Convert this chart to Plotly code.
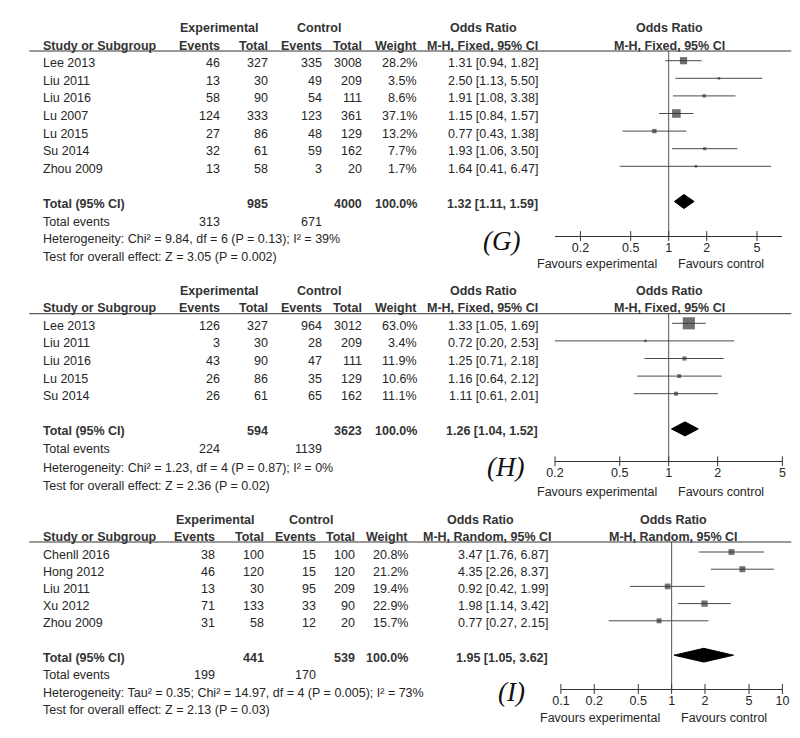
import math
import plotly.graph_objects as go

W, H = 800, 738
FONT = "Liberation Sans, Arial, sans-serif"
TXT = "#262626"
HDR = "#333333"

# ---------------- data ----------------
# Panel G (M-H, Fixed)
g_study = ["Lee 2013", "Liu 2011", "Liu 2016", "Lu 2007", "Lu 2015", "Su 2014", "Zhou 2009"]
g_exp_events = [46, 13, 58, 124, 27, 32, 13]
g_exp_total = [327, 30, 90, 333, 86, 61, 58]
g_ctl_events = [335, 49, 54, 123, 48, 59, 3]
g_ctl_total = [3008, 209, 111, 361, 129, 162, 20]
g_weight = [28.2, 3.5, 8.6, 37.1, 13.2, 7.7, 1.7]
g_or = [1.31, 2.50, 1.91, 1.15, 0.77, 1.93, 1.64]
g_lo = [0.94, 1.13, 1.08, 0.84, 0.43, 1.06, 0.41]
g_hi = [1.82, 5.50, 3.38, 1.57, 1.38, 3.50, 6.47]
g_tot = dict(exp_total=985, ctl_total=4000, weight="100.0%", est=1.32, lo=1.11, hi=1.59,
             exp_events=313, ctl_events=671)
g_het = "Heterogeneity: Chi² = 9.84, df = 6 (P = 0.13); I² = 39%"
g_test = "Test for overall effect: Z = 3.05 (P = 0.002)"
g_ticks = [0.2, 0.5, 1, 2, 5]

# Panel H (M-H, Fixed)
h_study = ["Lee 2013", "Liu 2011", "Liu 2016", "Lu 2015", "Su 2014"]
h_exp_events = [126, 3, 43, 26, 26]
h_exp_total = [327, 30, 90, 86, 61]
h_ctl_events = [964, 28, 47, 35, 65]
h_ctl_total = [3012, 209, 111, 129, 162]
h_weight = [63.0, 3.4, 11.9, 10.6, 11.1]
h_or = [1.33, 0.72, 1.25, 1.16, 1.11]
h_lo = [1.05, 0.20, 0.71, 0.64, 0.61]
h_hi = [1.69, 2.53, 2.18, 2.12, 2.01]
h_tot = dict(exp_total=594, ctl_total=3623, weight="100.0%", est=1.26, lo=1.04, hi=1.52,
             exp_events=224, ctl_events=1139)
h_het = "Heterogeneity: Chi² = 1.23, df = 4 (P = 0.87); I² = 0%"
h_test = "Test for overall effect: Z = 2.36 (P = 0.02)"
h_ticks = [0.2, 0.5, 1, 2, 5]

# Panel I (M-H, Random)
i_study = ["Chenll 2016", "Hong 2012", "Liu 2011", "Xu 2012", "Zhou 2009"]
i_exp_events = [38, 46, 13, 71, 31]
i_exp_total = [100, 120, 30, 133, 58]
i_ctl_events = [15, 15, 95, 33, 12]
i_ctl_total = [100, 120, 209, 90, 20]
i_weight = [20.8, 21.2, 19.4, 22.9, 15.7]
i_or = [3.47, 4.35, 0.92, 1.98, 0.77]
i_lo = [1.76, 2.26, 0.42, 1.14, 0.27]
i_hi = [6.87, 8.37, 1.99, 3.42, 2.15]
i_tot = dict(exp_total=441, ctl_total=539, weight="100.0%", est=1.95, lo=1.05, hi=3.62,
             exp_events=199, ctl_events=170)
i_het = "Heterogeneity: Tau² = 0.35; Chi² = 14.97, df = 4 (P = 0.005); I² = 73%"
i_test = "Test for overall effect: Z = 2.13 (P = 0.03)"
i_ticks = [0.1, 0.2, 0.5, 1, 2, 5, 10]

# ---------------- layout (pixel geometry) ----------------
panels = [
    dict(name="G", method="M-H, Fixed, 95% CI",
         study=g_study, ee=g_exp_events, et=g_exp_total, ce=g_ctl_events, ct=g_ctl_total,
         w=g_weight, est=g_or, lo=g_lo, hi=g_hi, tot=g_tot, het=g_het, test=g_test, ticks=g_ticks,
         xr=(10 ** -0.9, 10 ** 0.9), xd=(549, 781),
         top=43, r0=52.7, step=17.6, axis=228, head1=20, head2=37.7, tot_idx=8,
         extra=(214, 231, 249), fav=256, label=(494, 233),
         cols=(209, 258, 313.6, 354, 410, 534), orhead=534, h1=(207, 308, 476), fshift=1),
    dict(name="H", method="M-H, Fixed, 95% CI",
         study=h_study, ee=h_exp_events, et=h_exp_total, ce=h_ctl_events, ct=h_ctl_total,
         w=h_weight, est=h_or, lo=h_lo, hi=h_hi, tot=h_tot, het=h_het, test=h_test, ticks=h_ticks,
         xr=(0.2, 5), xd=(549, 781),
         top=305.7, r0=315.3, step=17.6, axis=453.3, head1=282.7, head2=300, tot_idx=6,
         extra=(441, 460, 478), fav=484, label=(498, 459),
         cols=(209, 258, 313.6, 354, 410, 534), orhead=534, h1=(207, 308, 476), fshift=1),
    dict(name="I", method="M-H, Random, 95% CI",
         study=i_study, ee=i_exp_events, et=i_exp_total, ce=i_ctl_events, ct=i_ctl_total,
         w=i_weight, est=i_or, lo=i_lo, hi=i_hi, tot=i_tot, het=i_het, test=i_test, ticks=i_ticks,
         xr=(0.1, 10), xd=(555, 781),
         top=534, r0=544, step=17.2, axis=681, head1=511.7, head2=529, tot_idx=6,
         extra=(667, 685, 702), fav=710, label=(505, 684),
         cols=(203.6, 253.6, 307, 347, 400.7, 543.6), orhead=548, h1=(202.7, 300.5, 473), fshift=2),
]

TOFF = 2.5  # text offset relative to mark centre

fig = go.Figure()
annotations = []
shapes = []
layout_axes = {}


def ann(xp, yp, text, anchor="left", bold=False, size=12.5, color=TXT, family=FONT):
    return dict(x=xp / W, y=1 - yp / H, xref="paper", yref="paper",
                text=f"<b>{text}</b>" if bold else text, showarrow=False,
                xanchor=anchor, yanchor="middle",
                font=dict(size=size, color=color, family=family))


for k, p in enumerate(panels):
    sfx = "" if k == 0 else str(k + 1)
    xa, ya = "x" + sfx, "y" + sfx
    n = len(p["study"])
    rows = list(range(n))
    ymin = (p["axis"] - p["r0"]) / p["step"]
    ymax = (p["top"] - p["r0"]) / p["step"]

    def rpx(i, p=p):
        return p["r0"] + p["step"] * i

    layout_axes["xaxis" + sfx] = dict(
        type="log", range=[math.log10(p["xr"][0]), math.log10(p["xr"][1])],
        domain=[p["xd"][0] / W, p["xd"][1] / W], anchor=ya,
        showline=True, linecolor="#333333", linewidth=1, showgrid=False, zeroline=False,
        ticks="", tickvals=p["ticks"], ticktext=[f"{t:g}" for t in p["ticks"]],
        tickfont=dict(size=12.5, color=TXT, family=FONT), fixedrange=True)
    layout_axes["yaxis" + sfx] = dict(
        domain=[1 - p["axis"] / H, 1 - p["top"] / H], range=[ymin, ymax],
        visible=False, fixedrange=True)

    fig.add_trace(go.Scatter(x=[1, 1], y=[ymax, ymin], mode="lines", xaxis=xa, yaxis=ya,
                             line=dict(color="#555555", width=1), hoverinfo="skip"))
    fig.add_trace(go.Scatter(x=p["ticks"], y=[ymin] * len(p["ticks"]), mode="markers",
                             xaxis=xa, yaxis=ya, cliponaxis=False,
                             marker=dict(symbol="line-ns", size=7,
                                         line=dict(color="#333333", width=1)),
                             hoverinfo="skip"))
    cx, cy = [], []
    for i in rows:
        cx += [p["lo"][i], p["hi"][i], None]
        cy += [i, i, None]
    fig.add_trace(go.Scatter(x=cx, y=cy, mode="lines", xaxis=xa, yaxis=ya,
                             line=dict(color="#4a4a4a", width=1), hoverinfo="skip"))
    sizes = [max(2.5, 0.82 * w ** 0.65) for w in p["w"]]
    fig.add_trace(go.Scatter(x=p["est"], y=rows, mode="markers", xaxis=xa, yaxis=ya,
                             cliponaxis=False,
                             marker=dict(symbol="square", size=sizes, color="#333333",
                                         line=dict(width=0)), hoverinfo="skip"))
    t = p["tot"]
    ti = p["tot_idx"]
    hh = 0.4
    fig.add_trace(go.Scatter(x=[t["lo"], t["est"], t["hi"], t["est"], t["lo"]],
                             y=[ti, ti - hh, ti, ti + hh, ti], mode="lines", fill="toself",
                             fillcolor="#000000", line=dict(color="#000000", width=1),
                             xaxis=xa, yaxis=ya, hoverinfo="skip"))

    shapes.append(dict(type="line", xref="paper", yref="paper", x0=12.5 / W, x1=790 / W,
                       y0=1 - p["top"] / H, y1=1 - p["top"] / H,
                       line=dict(color="#333333", width=1)))

    c = p["cols"]
    annotations.append(ann(p["h1"][0], p["head1"], "Experimental", "center", True, color=HDR))
    annotations.append(ann(p["h1"][1], p["head1"], "Control", "center", True, color=HDR))
    annotations.append(ann(p["h1"][2], p["head1"], "Odds Ratio", "center", True, color=HDR))
    annotations.append(ann(24, p["head2"], "Study or Subgroup", "left", True, color=HDR))
    for xp, lab in zip(c[:5], ["Events", "Total", "Events", "Total", "Weight"]):
        annotations.append(ann(xp, p["head2"], lab, "right", True, color=HDR))
    annotations.append(ann(p["orhead"], p["head2"], p["method"], "right", True, color=HDR))
    for yy, lab in [(p["head1"], "Odds Ratio"), (p["head2"], p["method"])]:
        annotations.append(dict(x=0, y=1 - yy / H, xref=xa, yref="paper", text=f"<b>{lab}</b>",
                                showarrow=False, xanchor="center", yanchor="middle",
                                xshift=p["fshift"],
                                font=dict(size=12.5, color=HDR, family=FONT)))

    for i in rows:
        yp = rpx(i) + TOFF
        annotations.append(ann(24, yp, p["study"][i]))
        vals = [p["ee"][i], p["et"][i], p["ce"][i], p["ct"][i], f"{p['w'][i]:.1f}%",
                f"{p['est'][i]:.2f} [{p['lo'][i]:.2f}, {p['hi'][i]:.2f}]"]
        for xp, v in zip(c, vals):
            annotations.append(ann(xp, yp, str(v), "right"))

    yp = rpx(ti) + TOFF
    annotations.append(ann(24, yp, "Total (95% CI)", "left", True, color=HDR))
    annotations.append(ann(c[1], yp, str(t["exp_total"]), "right", True, color=HDR))
    annotations.append(ann(c[3], yp, str(t["ctl_total"]), "right", True, color=HDR))
    annotations.append(ann(c[4], yp, t["weight"], "right", True, color=HDR))
    annotations.append(ann(c[5], yp, f"{t['est']:.2f} [{t['lo']:.2f}, {t['hi']:.2f}]",
                           "right", True, color=HDR))
    e1, e2, e3 = p["extra"]
    annotations.append(ann(24, e1, "Total events"))
    annotations.append(ann(c[0], e1, str(t["exp_events"]), "right"))
    annotations.append(ann(c[2], e1, str(t["ctl_events"]), "right"))
    annotations.append(ann(24, e2, p["het"]))
    annotations.append(ann(24, e3, p["test"]))

    for lab, anc, sh in [("Favours experimental", "right", -10), ("Favours control", "left", 7)]:
        annotations.append(dict(x=0, y=1 - p["fav"] / H, xref=xa, yref="paper", text=lab,
                                showarrow=False, xanchor=anc, yanchor="middle", xshift=sh,
                                font=dict(size=12.5, color=TXT, family=FONT)))

    annotations.append(ann(p["label"][0], p["label"][1], f"<i>({p['name']})</i>", "center",
                           size=27, color="#111111", family="Liberation Serif, Times New Roman, serif"))

fig.update_layout(
    width=W, height=H, margin=dict(l=0, r=0, t=0, b=0),
    paper_bgcolor="white", plot_bgcolor="white", showlegend=False,
    annotations=annotations, shapes=shapes, **layout_axes)

fig.write_html("out.html")
